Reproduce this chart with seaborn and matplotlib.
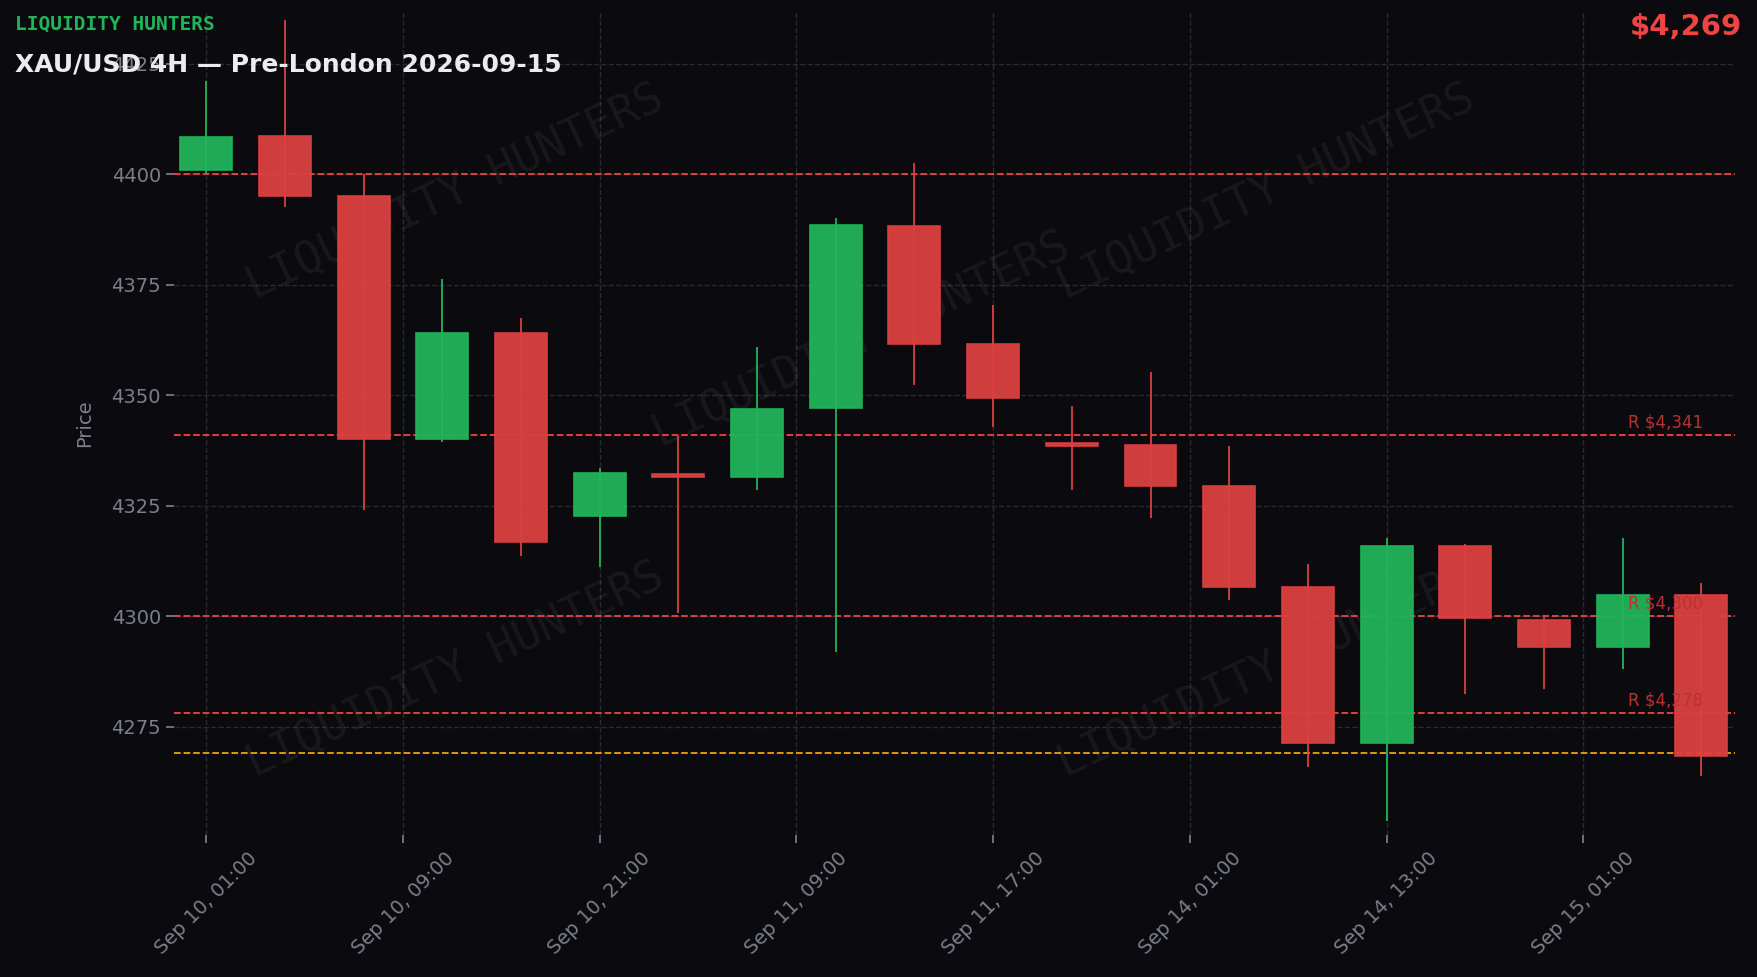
import numpy as np
import pandas as pd
import matplotlib
matplotlib.use("Agg")
import matplotlib.pyplot as plt
import seaborn as sns

# OHLC (4H candles)
opens = [4401.0, 4408.7, 4395.0, 4340.2, 4364.0, 4322.6, 4332.0, 4331.6, 4347.1, 4388.3,
         4361.6, 4338.9, 4338.7, 4329.5, 4306.6, 4271.2, 4315.8, 4299.2, 4293.1, 4304.8]
highs = [4421.0, 4435.0, 4400.0, 4376.3, 4367.4, 4333.6, 4340.7, 4360.8, 4390.0, 4402.5,
         4370.5, 4347.6, 4355.2, 4338.4, 4311.7, 4317.6, 4316.3, 4299.7, 4317.6, 4307.6]
lows = [4400.0, 4392.6, 4324.0, 4339.4, 4313.7, 4311.2, 4300.8, 4328.5, 4291.9, 4352.2,
        4342.7, 4328.5, 4322.1, 4303.6, 4265.9, 4253.7, 4282.4, 4283.5, 4288.0, 4263.9]
closes = [4408.4, 4395.0, 4340.0, 4364.0, 4316.8, 4332.3, 4331.6, 4346.8, 4388.5, 4361.6,
          4349.4, 4338.6, 4329.5, 4306.6, 4271.2, 4315.8, 4299.5, 4293.1, 4304.8, 4268.4]
tick_pos = [0, 2.5, 5, 7.5, 10, 12.5, 15, 17.5]
tick_labels = ["Sep 10, 01:00", "Sep 10, 09:00", "Sep 10, 21:00", "Sep 11, 09:00",
               "Sep 11, 17:00", "Sep 14, 01:00", "Sep 14, 13:00", "Sep 15, 01:00"]
resistances = [4400, 4341, 4300, 4278]
res_labels = [None, "R $4,341", "R $4,300", "R $4,278"]
last_price = 4269

BG = "#0b0b0f"
GREEN = "#22b45a"
RED = "#dc4040"

sns.set_theme(style="dark", rc={"axes.facecolor": BG, "figure.facecolor": BG})
plt.rcParams['font.family'] = ['DejaVu Sans']

df = pd.DataFrame({"open": opens, "high": highs, "low": lows, "close": closes})
df["x"] = np.arange(len(df))
df["up"] = df["close"] >= df["open"]

fig = plt.figure(figsize=(17.58, 9.77), dpi=100)
ax = fig.add_axes([0.099, 0.145, 0.888, 0.844])
ax.set_facecolor(BG)

for _, r in df.iterrows():
    c = GREEN if r["up"] else RED
    ax.vlines(r["x"], r["low"], r["high"], color=c, lw=1.3, zorder=3)
    bottom = min(r["open"], r["close"])
    h = max(abs(r["close"] - r["open"]), 0.6)
    ax.bar(r["x"], h, bottom=bottom, width=0.66, color=c, alpha=0.95,
           edgecolor=c, lw=1.2, zorder=4)

for lvl, lab in zip(resistances, res_labels):
    ax.axhline(lvl, color="#ef4444", ls="--", lw=1.3, zorder=2)
    if lab:
        ax.text(18.55, lvl + 0.8, lab, color="#b83232", fontsize=12, ha="center",
                va="bottom", zorder=5)
ax.axhline(last_price, color="#f59e0b", ls="--", lw=1.3, zorder=2)

# watermarks
for wx, wy in [(0.18, 0.78), (0.44, 0.6), (0.7, 0.78), (0.18, 0.2), (0.7, 0.2)]:
    ax.text(wx, wy, "LIQUIDITY HUNTERS", transform=ax.transAxes, fontsize=32,
            family="DejaVu Sans Mono", color="#ffffff", alpha=0.06, rotation=25,
            ha="center", va="center", zorder=1)

ax.set_xlim(-0.41, 19.43)
ax.set_ylim(4250.4, 4437)
ax.set_yticks([4275, 4300, 4325, 4350, 4375, 4400, 4425])
ax.set_xticks(tick_pos)
ax.set_xticklabels(tick_labels, rotation=45, ha="center")
ax.tick_params(colors="#7a7f8a", labelsize=14, length=6, color="#7a7f8a",
               bottom=True, left=True)
ax.set_ylabel("Price", color="#7a7f8a", fontsize=14, labelpad=12)
ax.grid(True, color="#2a2a30", ls="--", lw=1)
for s in ax.spines.values():
    s.set_visible(False)

fig.text(0.0085, 0.975, "LIQUIDITY HUNTERS", color=GREEN, fontsize=14,
         family="DejaVu Sans Mono", fontweight="bold", va="center")
fig.text(0.0085, 0.934, "XAU/USD 4H \u2014 Pre-London 2026-09-15", color="#ececf0",
         fontsize=18, fontweight="bold", va="center")
fig.text(0.991, 0.972, "$4,269", color="#ef4444", fontsize=21, fontweight="bold",
         ha="right", va="center")

fig.savefig("out.png", dpi=100, facecolor=BG)
